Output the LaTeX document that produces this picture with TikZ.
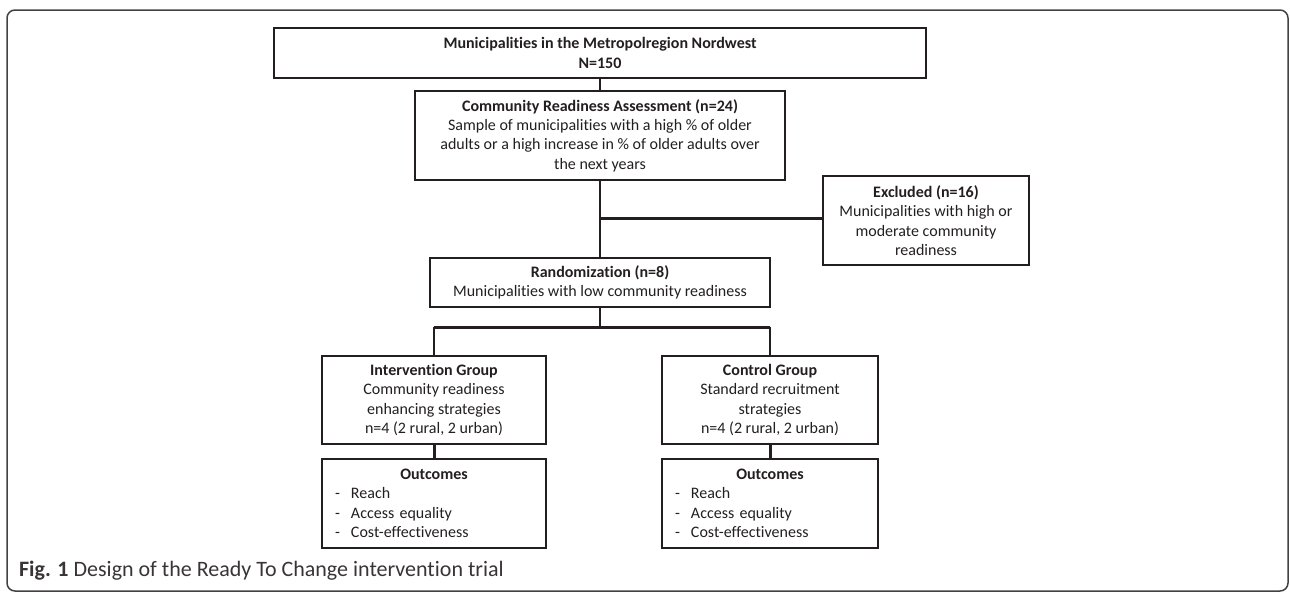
\documentclass[tikz,border=0pt]{standalone}
\usepackage{fontspec}
\setmainfont[Ligatures=NoCommon]{Carlito}
\usepackage{tikz}
\usetikzlibrary{positioning}
\usepackage{xcolor}
\definecolor{inkgray}{HTML}{231F20}
\newcommand{\outitem}[1]{\makebox[8pt][l]{-}#1}

\begin{document}
\begin{tikzpicture}[x=0.5pt,y=-0.5pt,
  every node/.style = {font=\fontsize{8}{9.7}\selectfont, text=inkgray},
  box/.style = {shape=rectangle, draw=inkgray, line width=1pt,
    align=center, inner sep=0pt},
  outbox/.style = {box, align=left, inner xsep=6.5pt},
  link/.style = {draw=inkgray, line width=0.8pt},
  branch/.style = {draw=inkgray, line width=1.5pt}
  ]
  \useasboundingbox (0,0) rectangle (1290,594);
  % frame round the figure
  \draw[inkgray!85, line width=0.75pt, rounded corners=4pt] (7,10) rectangle (1288,591);

  \node[box, minimum width=326pt, minimum height=25pt] (pop) at (600,53)
    {\textbf{Municipalities in the Metropolregion Nordwest}\\ \textbf{N=150}};
  \node[box, minimum width=185pt, minimum height=44.5pt] (cra) at (600,135.5)
    {\textbf{Community Readiness Assessment (n=24)}\\
     Sample of municipalities with a high \% of older\\
     adults or a high increase in \% of older adults over\\
     the next years};
  \node[box, minimum width=103pt, minimum height=44.5pt] (excl) at (926,220.5)
    {\textbf{Excluded (n=16)}\\ Municipalities with high or\\ moderate community\\ readiness};
  \node[box, minimum width=170pt, minimum height=24.5pt] (rand) at (600,282.5)
    {\textbf{Randomization (n=8)}\\ Municipalities with low community readiness};
  \node[box, minimum width=112pt, minimum height=44pt] (interv) at (434,400)
    {\textbf{Intervention Group}\\ Community readiness\\ enhancing strategies\\ n=4 (2 rural, 2 urban)};
  \node[box, minimum width=108pt, minimum height=44pt] (ctrl) at (770,400)
    {\textbf{Control Group}\\ Standard recruitment\\ strategies\\ n=4 (2 rural, 2 urban)};
  \node[outbox, text width=99pt, minimum height=44.5pt] (outI) at (434,503.5)
    {\makebox[\hsize]{\textbf{Outcomes}}\\ \outitem{Reach}\\ \outitem{Access equality}\\ \outitem{Cost-effectiveness}};
  \node[outbox, text width=95pt, minimum height=44.5pt] (outC) at (770,503.5)
    {\makebox[\hsize]{\textbf{Outcomes}}\\ \outitem{Reach}\\ \outitem{Access equality}\\ \outitem{Cost-effectiveness}};

  \node[anchor=west, font=\fontsize{11}{13}\selectfont, text=inkgray!90] (caption) at (12,571)
    {\textbf{Fig. 1} Design of the Ready To Change intervention trial};

  % connectors
  \coordinate (exclJoin) at (600,218);
  \coordinate (split) at (600,327);
  \draw[link, line width=0.6pt] (pop) -- (cra);
  \draw[link] (cra) -- (rand);
  \draw[branch] (exclJoin) -- (exclJoin -| excl.west);
  \draw[link] (rand) -- (split);
  \draw[branch] (split -| interv.north) -- (split -| ctrl.north);
  \draw[link] (split -| interv.north) -- (interv.north);
  \draw[link] (split -| ctrl.north) -- (ctrl.north);
  \draw[branch] (interv) -- (outI);
  \draw[branch] (ctrl) -- (outC);
\end{tikzpicture}
\end{document}
